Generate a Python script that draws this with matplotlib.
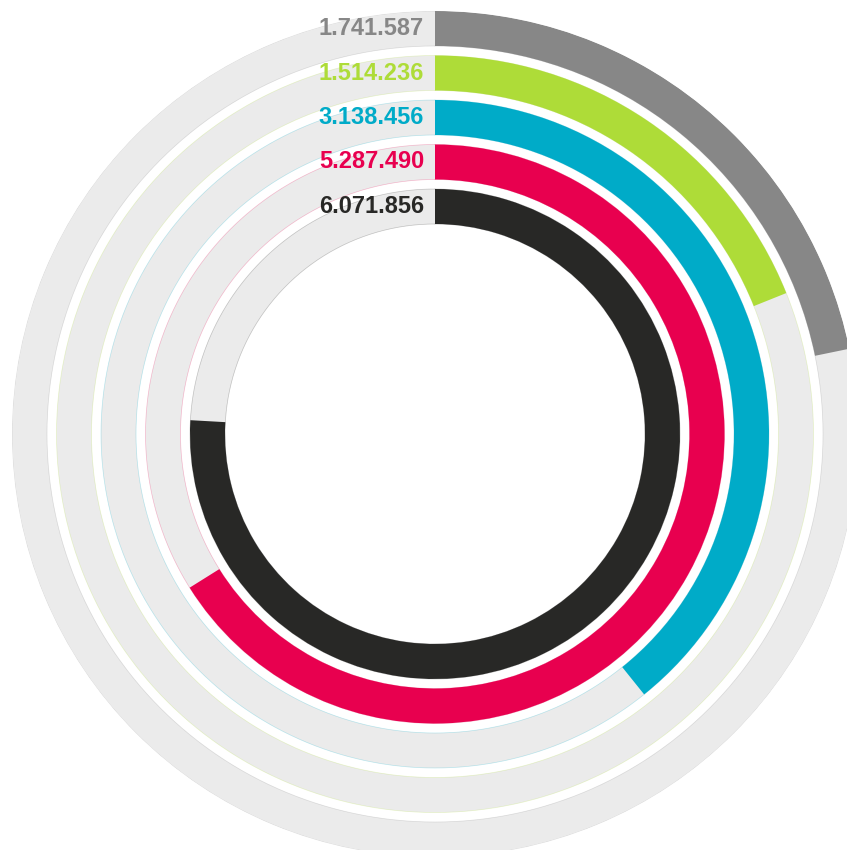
import numpy as np
import matplotlib.pyplot as plt

plt.rcParams.update({
    "font.family": ["Liberation Sans", "DejaVu Sans"],
    "font.weight": "bold",
})

# data, outer ring first
labels = ["1.741.587", "1.514.236", "3.138.456", "5.287.490", "6.071.856"]
values = [1741587, 1514236, 3138456, 5287490, 6071856]
colors = ["#878787", "#aedc38", "#00abc8", "#e8004f", "#282826"]
max_value = 8000000

track_color = "#ebebeb"
outer_r = 423
ring_w = 35
step = 44.5

W, H = 847, 850
cx, cy = 435, 434

fig = plt.figure(figsize=(W / 100, H / 100), dpi=100)
ax = fig.add_axes([(cx - outer_r) / W, (H - cy - outer_r) / H,
                   2 * outer_r / W, 2 * outer_r / H], projection="polar")
ax.set_theta_zero_location("N")
ax.set_theta_direction(-1)
ax.set_ylim(0, outer_r)
ax.axis("off")

for i, (lab, val, col) in enumerate(zip(labels, values, colors)):
    r_top = outer_r - i * step
    r_bot = r_top - ring_w
    # grey track with a faint coloured rim
    ax.bar(0, ring_w, width=2 * np.pi, bottom=r_bot, align="edge",
           color=track_color, edgecolor="none")
    th = np.linspace(0, 2 * np.pi, 721)
    ax.plot(th, np.full_like(th, r_top), color=col, lw=0.5, alpha=0.25)
    ax.plot(th, np.full_like(th, r_bot), color=col, lw=0.5, alpha=0.25)
    # value arc
    ax.bar(0, ring_w, width=2 * np.pi * val / max_value, bottom=r_bot,
           align="edge", color=col, edgecolor="none")
    ax.annotate(lab, xy=(0, (r_top + r_bot) / 2), xytext=(-11, 0),
                textcoords="offset pixels", ha="right", va="center",
                fontsize=17, fontweight="bold", color=col)

fig.savefig("out.png", dpi=100)
